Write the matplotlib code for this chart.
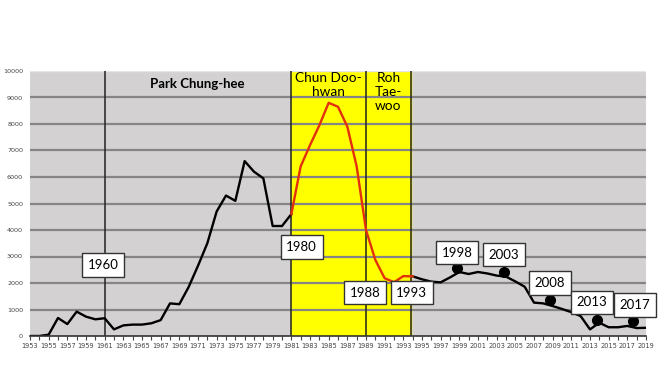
import numpy as np
import matplotlib.pyplot as plt

# black series (before and after the red period)
years_a = list(range(1953, 1982))
vals_a = [0, 0, 50, 680, 450, 920, 730, 630, 670, 250, 400, 430, 430, 480, 600,
          1230, 1200, 1850, 2650, 3500, 4700, 5300, 5100, 6600, 6200, 5950,
          4150, 4150, 4600]

years_red = list(range(1981, 1995))
vals_red = [4600, 6400, 7200, 7950, 8800, 8650, 7900, 6400, 4000, 2870, 2180,
            2030, 2260, 2250]

years_b = list(range(1994, 2020))
vals_b = [2250, 2140, 2050, 2025, 2210, 2415, 2340, 2415, 2360, 2280, 2240,
          2060, 1860, 1260, 1230, 1130, 1020, 900, 750, 250, 500, 330, 330,
          380, 300, 310]

dot_x = [1998.8, 2003.8, 2008.7, 2013.7, 2017.6]
dot_y = [2580, 2400, 1360, 600, 570]

box_labels = ['1960', '1980', '1988', '1993', '1998', '2003', '2008', '2013', '2017']
box_x = [1960.8, 1982.1, 1988.9, 1993.9, 1998.8, 2003.75, 2008.7, 2013.2, 2017.8]
box_y = [2680, 3360, 1630, 1630, 3150, 3070, 2000, 1280, 1170]

vlines = [1961, 1981, 1989, 1993.8]

fig = plt.figure(figsize=(6.6, 3.71), dpi=100)
ax = fig.add_axes([30 / 660, 1 - 336 / 371, 616 / 660, 265 / 371])
ax.set_facecolor('#d3d1d1')

ax.axvspan(1981, 1993.8, color='#ffff00', zorder=1)
for y in range(1000, 10000, 1000):
    ax.axhline(y, color='#858585', lw=1.6, zorder=2)
ax.axhline(10000, color='#e6e6e6', lw=1, zorder=2)
for x in vlines:
    ax.axvline(x, color='#222222', lw=1.1, zorder=3)

ax.plot(years_a, vals_a, color='black', lw=1.7, zorder=4)
ax.plot(years_b, vals_b, color='black', lw=1.7, zorder=4)
ax.plot(years_red, vals_red, color='#e3300c', lw=1.7, zorder=5)
ax.plot(dot_x, dot_y, 'o', color='black', ms=7, zorder=6)

for t, x, y in zip(box_labels, box_x, box_y):
    ax.text(x, y, t, ha='center', va='center', fontsize=9.5, family='Lato', zorder=7,
            bbox=dict(boxstyle='square,pad=0.42', fc='white', ec='#333333', lw=1))

ax.text(1970.9, 9510, 'Park Chung-hee', ha='center', va='center', fontsize=9.5,
        fontweight='bold', family='Lato', zorder=7)
ax.text(1985, 9950, 'Chun Doo-\nhwan', ha='center', va='top', fontsize=9.8,
        family='Lato', linespacing=1.2, zorder=7)
ax.text(1991.4, 9950, 'Roh\nTae-\nwoo', ha='center', va='top', fontsize=9.8,
        family='Lato', linespacing=1.2, zorder=7)

ax.set_xlim(1953, 2019)
ax.set_ylim(0, 10000)
ax.set_yticks(range(0, 10001, 1000))
ax.set_yticklabels([str(v) for v in range(0, 10001, 1000)])
ax.set_xticks(range(1953, 2020, 2))
ax.set_xticks(range(1953, 2020), minor=True)
ax.tick_params(axis='x', labelsize=4.8, colors='#444444', length=3, width=0.8,
               which='both', direction='out', pad=2)
ax.tick_params(axis='y', labelsize=4.6, colors='#444444', length=0, pad=5)
for s in ['top', 'right', 'left']:
    ax.spines[s].set_visible(False)
ax.spines['bottom'].set_color('#333333')
ax.spines['bottom'].set_linewidth(1.2)
ax.spines['bottom'].set_zorder(8)

fig.savefig('out.png', dpi=100)
